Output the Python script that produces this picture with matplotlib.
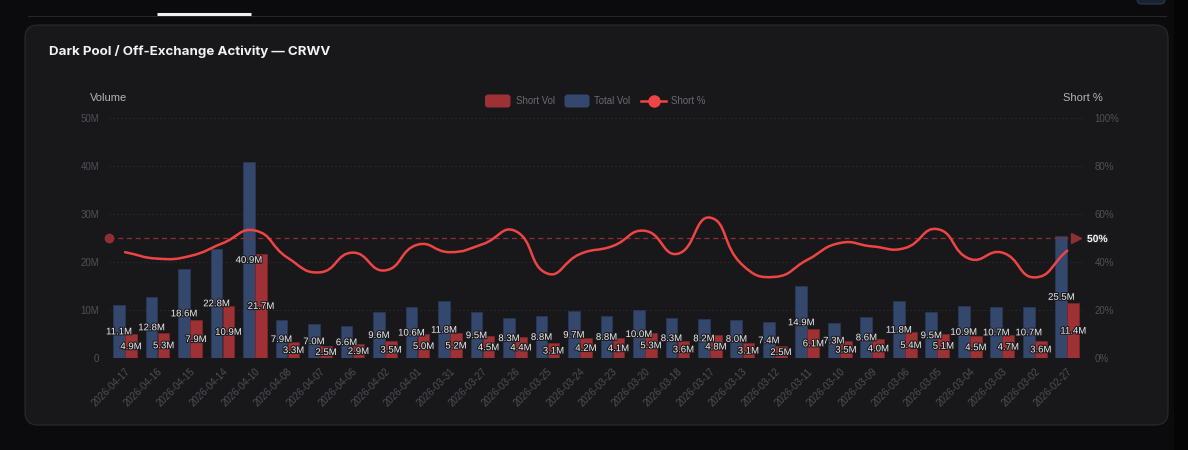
import matplotlib
matplotlib.use("Agg")
import matplotlib.pyplot as plt
import matplotlib.patheffects as pe
from matplotlib.patches import FancyBboxPatch, Rectangle, PathPatch
from matplotlib.path import Path
from matplotlib.lines import Line2D

# ---------------- data ----------------
dates = ["2026-04-17", "2026-04-16", "2026-04-15", "2026-04-14", "2026-04-10", "2026-04-08",
         "2026-04-07", "2026-04-06", "2026-04-02", "2026-04-01", "2026-03-31", "2026-03-27",
         "2026-03-26", "2026-03-25", "2026-03-24", "2026-03-23", "2026-03-20", "2026-03-18",
         "2026-03-17", "2026-03-13", "2026-03-12", "2026-03-11", "2026-03-10", "2026-03-09",
         "2026-03-06", "2026-03-05", "2026-03-04", "2026-03-03", "2026-03-02", "2026-02-27"]
total_vol = [11.1, 12.8, 18.6, 22.8, 40.9, 7.9, 7.0, 6.6, 9.6, 10.6, 11.8, 9.5, 8.3, 8.8, 9.7,
             8.8, 10.0, 8.3, 8.2, 8.0, 7.4, 14.9, 7.3, 8.6, 11.8, 9.5, 10.9, 10.7, 10.7, 25.5]
short_vol = [4.9, 5.3, 7.9, 10.9, 21.7, 3.3, 2.5, 2.9, 3.5, 5.0, 5.2, 4.5, 4.4, 3.1, 4.2,
             4.1, 5.3, 3.6, 4.8, 3.1, 2.5, 6.1, 3.5, 4.0, 5.4, 5.1, 4.5, 4.7, 3.6, 11.4]
short_pct = [44.1, 41.4, 42.5, 47.8, 53.1, 41.8, 35.7, 43.9, 36.5, 47.2, 44.1, 47.4, 53.0, 35.2, 43.3,
             46.6, 53.0, 43.4, 58.5, 38.8, 33.8, 40.9, 47.9, 46.5, 45.8, 53.7, 41.3, 43.9, 33.6, 44.7]
left_ticks = [0, 10, 20, 30, 40, 50]
left_tick_labels = ["0", "10M", "20M", "30M", "40M", "50M"]
right_ticks = [0, 20, 40, 60, 80, 100]
right_tick_labels = ["0%", "20%", "40%", "60%", "80%", "100%"]
mark_value = 50
title = "Dark Pool / Off-Exchange Activity \u2014 CRWV"

# ---------------- style ----------------
W, H = 1188, 450
OUTER = "#0b0b0d"
CARD = "#18181b"
RED_BAR = "#9e3134"
BLUE_BAR = "#34486e"
LINE = "#ef4444"
MARK = "#8e2f33"
TICK = "#4f4f55"
FONT = ["Liberation Sans", "DejaVu Sans"]

def fx(px):
    return px / W

def fy(py):
    return 1 - py / H

fig = plt.figure(figsize=(W / 100, H / 100), dpi=100, facecolor=OUTER)

# right dark strip
fig.patches.append(Rectangle((fx(1174), 0), 1 - fx(1174), 1, transform=fig.transFigure,
                             facecolor="#050506", edgecolor="none", zorder=-5))
# top tab strip
fig.lines.append(Line2D([fx(28), fx(1166)], [fy(15.5), fy(15.5)], transform=fig.transFigure,
                        color="#26262a", lw=0.8, zorder=-4))
fig.lines.append(Line2D([fx(157), fx(251)], [fy(14), fy(14)], transform=fig.transFigure,
                        color="#f0f0f0", lw=2.2, solid_capstyle="butt", zorder=-4))
fig.patches.append(FancyBboxPatch((11.37, 4.46), 0.28, 0.1, boxstyle="round,pad=0,rounding_size=0.05",
                                  transform=fig.dpi_scale_trans, facecolor="#1a2230",
                                  edgecolor="#2c3a55", lw=0.8, zorder=-4))
# card
fig.patches.append(FancyBboxPatch((0.25, 0.25), 11.43, 4.0, boxstyle="round,pad=0,rounding_size=0.13",
                                  transform=fig.dpi_scale_trans, facecolor=CARD,
                                  edgecolor="#28282c", lw=0.9, zorder=-3))

fig.text(fx(49), fy(51), title, color="#f2f2f2", fontsize=9.6, fontweight="bold",
         family=["Inter", "DejaVu Sans"], ha="left", va="center")

# axes
L, R, T, B = 108.8, 1083.5, 118, 358
ax = fig.add_axes([fx(L), fy(B), fx(R) - fx(L), (B - T) / H])
ax.set_facecolor("none")
ax2 = ax.twinx()
ax2.set_facecolor("none")
n = len(dates)
xs = list(range(n))
ax.set_xlim(-0.5, n - 0.5)
ax.set_ylim(0, 50)
ax2.set_ylim(0, 100)

for a in (ax, ax2):
    for s in a.spines.values():
        s.set_visible(False)

for t in left_ticks[1:]:
    ax.axhline(t, color="#2b2b30", lw=0.7, ls=(0, (1.5, 2.5)), zorder=0)
ax.axhline(0, color="#2c2c31", lw=0.8, zorder=0)

bw = 0.36
off = 0.185
xt = [x - off for x in xs]
xr = [x + off for x in xs]
ax.bar(xt, total_vol, width=bw, color=BLUE_BAR, zorder=2, edgecolor="#2a3a58", lw=0.5)
ax.bar(xr, short_vol, width=bw, color=RED_BAR, zorder=2, edgecolor="#7e2628", lw=0.5)

stroke = [pe.withStroke(linewidth=1.6, foreground="#1b1b1f")]
for x, v in zip(xt, total_vol):
    ax.text(x, v / 2, f"{v:.1f}M", color="#ececec", fontsize=6.9, family=FONT,
            ha="center", va="center", zorder=6, path_effects=stroke)
for x, v in zip(xr, short_vol):
    ax.text(x, v / 2, f"{v:.1f}M", color="#ececec", fontsize=6.9, family=FONT,
            ha="center", va="center", zorder=6, path_effects=stroke)

ax.set_yticks(left_ticks)
ax.set_yticklabels(left_tick_labels)
ax.tick_params(axis="y", length=0, pad=7, labelcolor=TICK, labelsize=7)
ax2.set_yticks(right_ticks)
ax2.set_yticklabels(right_tick_labels)
ax2.tick_params(axis="y", length=0, pad=8, labelcolor=TICK, labelsize=7)
for lab in ax.get_yticklabels() + ax2.get_yticklabels():
    lab.set_family(FONT)

ax.set_xticks(xs)
ax.set_xticklabels(dates, rotation=45, ha="right", rotation_mode="anchor")
ax.tick_params(axis="x", length=0, pad=6, labelcolor=TICK, labelsize=7)
for lab in ax.get_xticklabels():
    lab.set_family(FONT)

# smooth line (echarts-like bezier), computed in pixel-proportional space
sx = (R - L) / n
sy = (B - T) / 100.0
px = [x * sx for x in xs]
py = [p * sy for p in short_pct]
smooth = 0.5
verts = [(xs[0], short_pct[0])]
codes = [Path.MOVETO]
cps = []
for i in range(n):
    pi = max(i - 1, 0)
    ni = min(i + 1, n - 1)
    vx = px[ni] - px[pi]
    vy = py[ni] - py[pi]
    d0 = ((px[i] - px[pi]) ** 2 + (py[i] - py[pi]) ** 2) ** 0.5
    d1 = ((px[ni] - px[i]) ** 2 + (py[ni] - py[i]) ** 2) ** 0.5
    s = d0 + d1
    r0 = d0 / s if s else 0
    r1 = d1 / s if s else 0
    c0 = (px[i] - vx * smooth * r0, py[i] - vy * smooth * r0)
    c1 = (px[i] + vx * smooth * r1, py[i] + vy * smooth * r1)
    cps.append((c0, c1))
for i in range(n - 1):
    a = cps[i][1]
    b = cps[i + 1][0]
    verts += [(a[0] / sx, a[1] / sy), (b[0] / sx, b[1] / sy), (xs[i + 1], short_pct[i + 1])]
    codes += [Path.CURVE4] * 3
ax2.add_patch(PathPatch(Path(verts, codes), facecolor="none", edgecolor=LINE, lw=1.8,
                        zorder=4, capstyle="round", joinstyle="round"))

# mark line at 50%
ax2.plot([-0.5, n - 0.5 - 0.12], [mark_value, mark_value], color=MARK, lw=0.9,
         ls=(0, (4, 3)), zorder=3)
ax2.plot([-0.5], [mark_value], marker="o", ms=6, color=MARK, mec=MARK, zorder=3, clip_on=False)
ax2.plot([n - 0.5 - 0.22], [mark_value], marker=">", ms=7, color=MARK, mec=MARK, zorder=3,
         clip_on=False)
fig.text(fx(1087), fy(239), f"{mark_value}%", color="#f4f4f4", fontsize=7.4, fontweight="bold",
         family=FONT, ha="left", va="center",
         path_effects=[pe.withStroke(linewidth=1.5, foreground="#2a2a2e")])

# axis names
fig.text(fx(109), fy(98), "Volume", color="#b4b4b8", fontsize=8, family=FONT,
         ha="center", va="center")
fig.text(fx(1083), fy(98), "Short %", color="#b4b4b8", fontsize=8, family=FONT,
         ha="center", va="center")

# legend
ly = 101
fig.patches.append(FancyBboxPatch((4.85, (H - 107.5) / 100), 0.255, 0.13,
                                  boxstyle="round,pad=0,rounding_size=0.03",
                                  transform=fig.dpi_scale_trans, facecolor=RED_BAR, edgecolor="none",
                                  zorder=3))
fig.text(fx(516), fy(ly), "Short Vol", color="#6a6a70", fontsize=6.9, family=FONT,
         ha="left", va="center")
fig.patches.append(FancyBboxPatch((5.645, (H - 107.5) / 100), 0.25, 0.13,
                                  boxstyle="round,pad=0,rounding_size=0.03",
                                  transform=fig.dpi_scale_trans, facecolor=BLUE_BAR, edgecolor="none",
                                  zorder=3))
fig.text(fx(594), fy(ly), "Total Vol", color="#6a6a70", fontsize=6.9, family=FONT,
         ha="left", va="center")
fig.lines.append(Line2D([fx(641), fx(666)], [fy(ly), fy(ly)], transform=fig.transFigure,
                        color=LINE, lw=1.8))
fig.lines.append(Line2D([fx(653.5)], [fy(ly)], transform=fig.transFigure, marker="o", ms=8,
                        color=LINE, mec=LINE))
fig.text(fx(671), fy(ly), "Short %", color="#6a6a70", fontsize=6.9, family=FONT,
         ha="left", va="center")

fig.savefig("out.png", dpi=100, facecolor=OUTER)
